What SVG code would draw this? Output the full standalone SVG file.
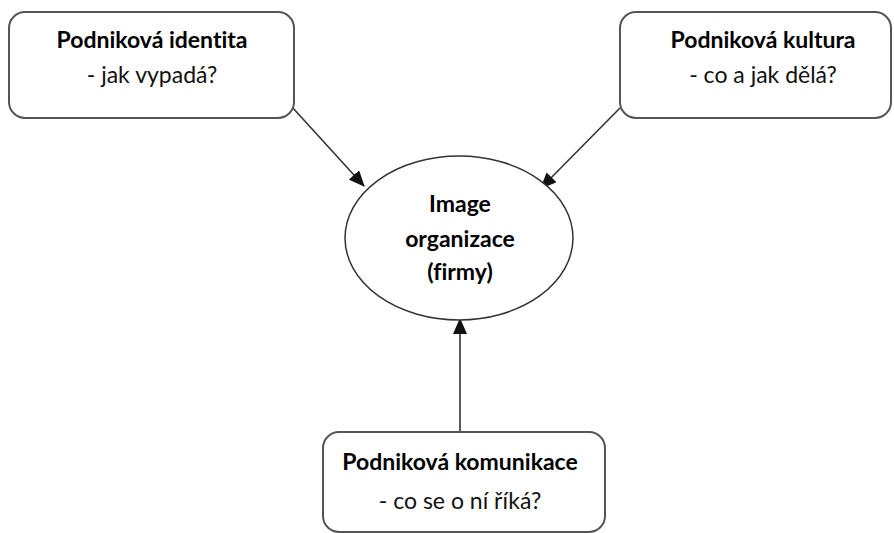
<svg xmlns="http://www.w3.org/2000/svg" width="894" height="533" viewBox="0 0 894 533">
  <style>
    .box { fill: #ffffff; stroke: #555555; stroke-width: 2; }
    .oval { fill: #ffffff; stroke: #333333; stroke-width: 1.5; }
    .title { font-family: Lato, "Open Sans", "Liberation Sans", sans-serif; font-weight: bold; font-size: 23px; fill: #000000; text-anchor: middle; font-variant-ligatures: none; }
    .sub { font-family: Lato, "Open Sans", "Liberation Sans", sans-serif; font-size: 23px; fill: #111111; text-anchor: middle; font-variant-ligatures: none; }
    .link { stroke: #333333; stroke-width: 1.6; fill: none; marker-end: url(#arrow); }
  </style>
  <defs>
    <marker id="arrow" markerWidth="16" markerHeight="14" refX="15" refY="7" orient="auto" markerUnits="userSpaceOnUse" viewBox="0 0 16 14">
      <path d="M0,0 L16,7 L0,14 Z" fill="#111111"/>
    </marker>
  </defs>
  <rect width="894" height="533" fill="#ffffff"/>

  <g id="connectors">
    <line class="link" x1="292" y1="107" x2="364" y2="186"/>
    <line class="link" x1="620" y1="108" x2="541" y2="188"/>
    <line class="link" x1="460" y1="432" x2="460" y2="319"/>
  </g>

  <g id="identita">
    <rect class="box" x="9" y="12" width="285" height="106" rx="16"/>
    <text class="title" x="152" y="48">Podniková identita</text>
    <text class="sub" x="152" y="83">- jak vypadá?</text>
  </g>

  <g id="kultura">
    <rect class="box" x="620" y="12" width="271" height="106" rx="16"/>
    <text class="title" x="763" y="48">Podniková kultura</text>
    <text class="sub" x="763" y="83">- co a jak dělá?</text>
  </g>

  <g id="image">
    <ellipse class="oval" cx="459" cy="238" rx="114" ry="82"/>
    <text class="title" x="460" y="212">Image</text>
    <text class="title" x="460" y="247">organizace</text>
    <text class="title" x="460" y="280">(firmy)</text>
  </g>

  <g id="komunikace">
    <rect class="box" x="323" y="432" width="282" height="100" rx="16"/>
    <text class="title" x="460" y="470">Podniková komunikace</text>
    <text class="sub" x="460" y="509">- co se o ní říká?</text>
  </g>
</svg>
